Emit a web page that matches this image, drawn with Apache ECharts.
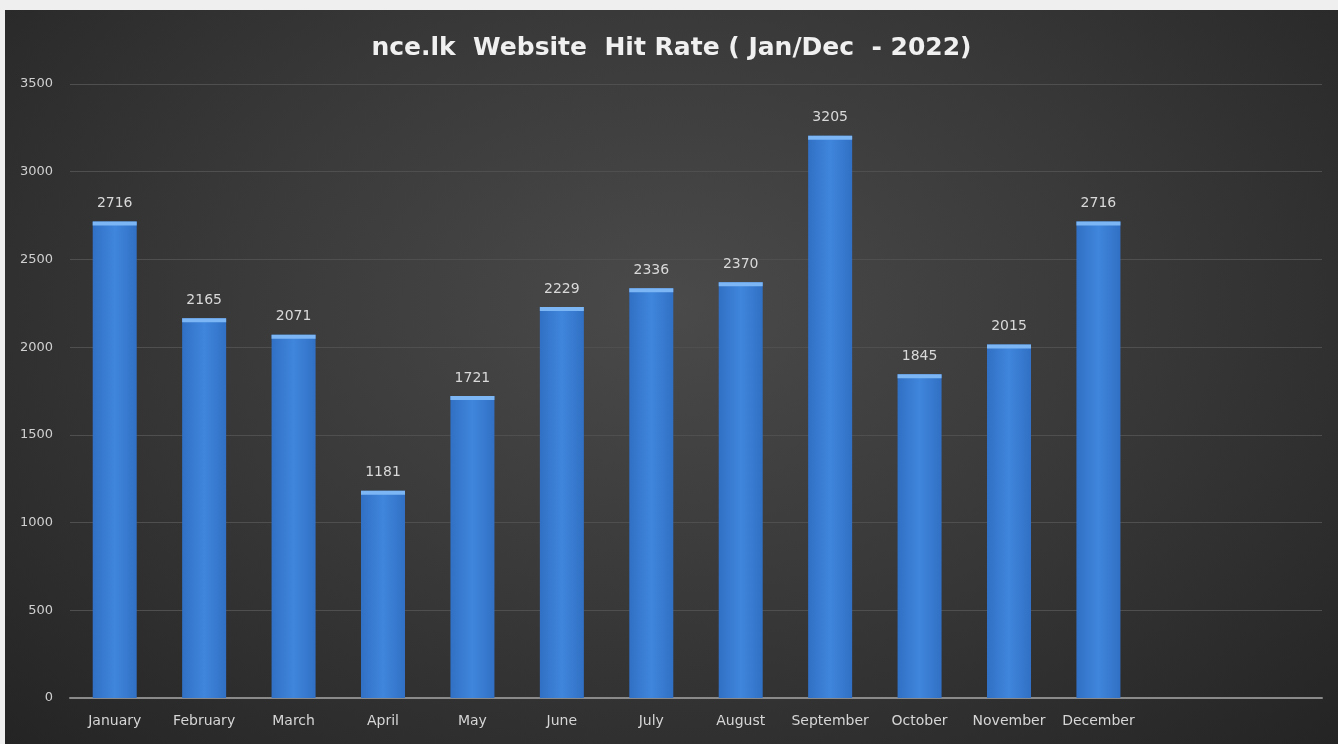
<!DOCTYPE html>
<html>
<head>
<meta charset="utf-8">
<script src="https://cdn.jsdelivr.net/npm/echarts@6/dist/echarts.min.js"></script>
<style>
html,body{margin:0;padding:0;background:#efefef;width:1338px;height:744px;overflow:hidden;}
#box{position:absolute;left:5px;top:10px;width:1333px;height:734px;
background:radial-gradient(ellipse at 50% 40%, #4a4a4a 0%, #3a3a3a 45%, #242424 100%);}
#chart{width:1333px;height:734px;}
</style>
</head>
<body>
<div id="box"><div id="chart"></div></div>
<script>
const categories = ['January','February','March','April','May','June','July','August','September','October','November','December','',''];
const hits = [2716, 2165, 2071, 1181, 1721, 2229, 2336, 2370, 3205, 1845, 2015, 2716, null, null];
const titleText = 'nce.lk  Website  Hit Rate ( Jan/Dec  - 2022)';

const chart = echarts.init(document.getElementById('chart'));
chart.setOption({
  backgroundColor: 'transparent',
  animation: false,
  title: {
    text: titleText, left: 'center', top: 21,
    textStyle: { color: '#f0f0f0', fontSize: 25, fontWeight: 'bold', fontFamily: 'DejaVu Sans' }
  },
  grid: { left: 65, top: 74, width: 1252, height: 614 },
  xAxis: {
    type: 'category', data: categories,
    axisLine: { lineStyle: { color: '#8a8a8a', width: 2 } },
    axisTick: { show: false },
    axisLabel: { color: '#d6d6d6', fontSize: 14, fontFamily: 'DejaVu Sans', margin: 16, interval: 0 }
  },
  yAxis: {
    type: 'value', min: 0, max: 3500, interval: 500,
    axisLine: { show: false }, axisTick: { show: false },
    axisLabel: { color: '#d0d0d0', fontSize: 13, fontFamily: 'DejaVu Sans', margin: 17, formatter: v => String(v) },
    splitLine: { lineStyle: { color: '#4f4f4f', width: 1 } }
  },
  series: [
    {
      type: 'bar', data: hits, barWidth: 44,
      itemStyle: {
        color: new echarts.graphic.LinearGradient(0, 0, 1, 0, [
          { offset: 0, color: '#3170c4' },
          { offset: 0.5, color: '#3f86dc' },
          { offset: 1, color: '#3170c4' }
        ])
      },
      label: { show: true, position: 'top', distance: 11, color: '#d9d9d9', fontSize: 14, fontFamily: 'DejaVu Sans' }
    },
    {
      type: 'pictorialBar', data: hits, symbol: 'rect', symbolSize: [44, 4],
      symbolPosition: 'end', symbolOffset: [0, 0], z: 3, silent: true,
      itemStyle: { color: '#7db6f4' }
    }
  ]
});
</script>
</body>
</html>
